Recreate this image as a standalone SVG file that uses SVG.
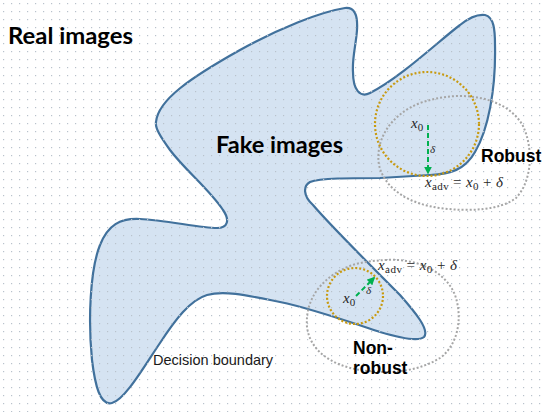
<svg xmlns="http://www.w3.org/2000/svg" width="547" height="412" viewBox="0 0 547 412">
<defs>
<pattern id="dots" width="8" height="8" patternUnits="userSpaceOnUse">
<rect x="3" y="3" width="1.2" height="1.2" fill="#b9c2cc"/>
</pattern>
<marker id="ga" viewBox="0 0 10 10" refX="8" refY="5" markerWidth="4" markerHeight="4" orient="auto" markerUnits="strokeWidth">
<path d="M0,0 L10,5 L0,10 Z" fill="#00b050"/>
</marker>
</defs>
<style>
.blob{fill:#d5e3f2;stroke:#41719c;stroke-width:2.2}
.gray{fill:none;stroke:#a6a6a6;stroke-width:2;stroke-dasharray:2 2}
.orange{fill:none;stroke:#c89a10;stroke-width:2.2;stroke-dasharray:2 2}
.green{fill:none;stroke:#00b050;stroke-width:2;stroke-dasharray:5 3;marker-end:url(#ga)}
.big{font-family:Lato,"Open Sans",sans-serif;font-weight:bold;font-size:23px;fill:#000}
.lab{font-family:"Liberation Sans",Arial,sans-serif;font-weight:bold;font-size:17.5px;fill:#000}
.dec{font-family:"Liberation Sans",Arial,sans-serif;font-size:14.5px;fill:#1a1a1a}
.math{font-family:"Liberation Serif","DejaVu Serif",serif;font-size:15px;fill:#262626}
.it{font-style:italic}
.sub{font-size:11px}
</style>
<rect width="547" height="412" fill="#ffffff"/>
<g id="blob">
<path class="blob" d="M156,122 C158,100 190,78 240,50 C280,28 320,12 345,8 C354,7 358,14 357,30 C356,45 352,58 353,72 C353,90 360,98 370,93 C400,78 440,40 460,25 C470,17 478,14 485,15 C494,17 495,30 495,45 C496,90 488,130 475,152 C465,170 450,174 430,175 L380,178 C350,178 320,178 310,182 C303,186 303,196 313,205 C330,225 370,265 400,295 C415,312 430,330 424,337 C418,342 400,338 380,332 C350,322 310,308 280,302 C250,296 225,290 207,295 C190,300 175,320 160,343 C145,365 125,400 112,403 C100,406 95,385 92,360 C88,320 90,270 100,245 C108,225 120,218 140,219 C165,220 200,228 217,228 C228,228 230,220 223,210 C210,190 185,170 170,150 C160,136 155,128 156,122 Z"/>
</g>
<rect width="547" height="412" fill="url(#dots)"/>
<g id="robust-region">
<path class="gray" d="M460,96 C487,96 512,106 523,126 C533,147 533,180 516,198 C500,210 470,212 440,208 C410,204 385,190 379,165 C375,140 390,115 420,103 C435,98 448,96 460,96 Z"/>
<circle class="orange" cx="427" cy="124" r="52"/>
</g>
<g id="nonrobust-region">
<path class="gray" d="M385,260 C415,258 445,270 455,295 C463,318 458,345 440,358 C420,370 395,375 360,370 C330,365 310,350 307,327 C305,300 320,280 345,268 C358,262 372,261 385,260 Z"/>
<circle class="orange" cx="355" cy="296" r="28"/>
</g>
<g id="connectors">
<line class="green" x1="428" y1="125" x2="428" y2="173"/>
<line class="green" x1="356" y1="296" x2="374" y2="278"/>
</g>
<g id="labels">
<text class="big" x="8" y="44" textLength="125" lengthAdjust="spacingAndGlyphs">Real images</text>
<text class="big" x="216" y="153" textLength="127" lengthAdjust="spacingAndGlyphs">Fake images</text>
<text class="lab" x="481" y="162">Robust</text>
<text class="lab" x="353" y="354">Non-</text>
<text class="lab" x="353" y="374">robust</text>
<text class="dec" x="153" y="365">Decision boundary</text>
</g>
<g id="math">
<text class="math" x="411" y="128"><tspan class="it">x</tspan><tspan class="sub" dy="3">0</tspan></text>
<text class="math" x="430" y="153" style="font-size:11px"><tspan class="it">δ</tspan></text>
<text class="math" x="425" y="187" textLength="78"><tspan class="it">x</tspan><tspan class="sub" dy="3">adv</tspan><tspan dy="-3"> = </tspan><tspan class="it">x</tspan><tspan class="sub" dy="3">0</tspan><tspan dy="-3"> + </tspan><tspan class="it">δ</tspan></text>
<text class="math" x="343" y="303"><tspan class="it">x</tspan><tspan class="sub" dy="3">0</tspan></text>
<text class="math" x="366" y="294" style="font-size:11px"><tspan class="it">δ</tspan></text>
<text class="math" x="378" y="270" textLength="79"><tspan class="it">x</tspan><tspan class="sub" dy="3">adv</tspan><tspan dy="-3"> = </tspan><tspan class="it">x</tspan><tspan class="sub" dy="3">0</tspan><tspan dy="-3"> + </tspan><tspan class="it">δ</tspan></text>
</g>
</svg>
